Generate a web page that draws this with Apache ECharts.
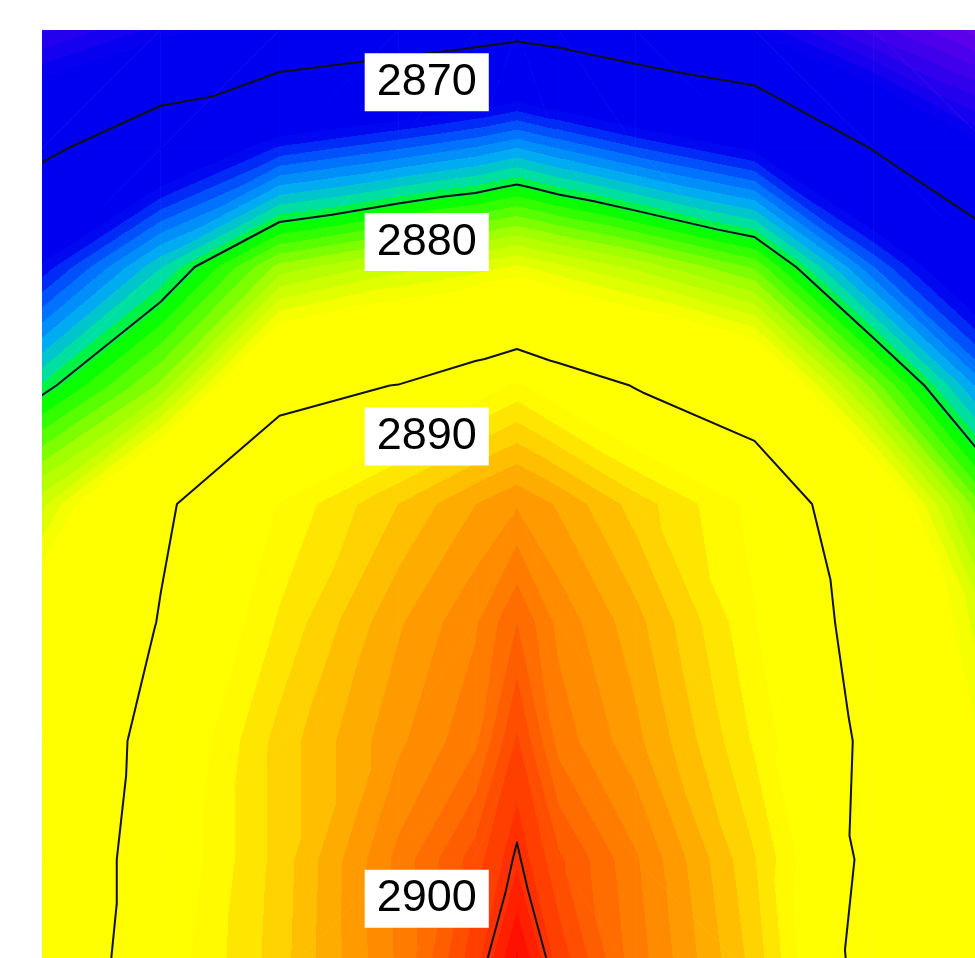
<!DOCTYPE html>
<html>
<head>
<meta charset="utf-8">
<script src="https://cdn.jsdelivr.net/npm/echarts@6/dist/echarts.min.js"></script>
<style>
  html, body { margin: 0; padding: 0; background: #ffffff; }
  #chart { width: 975px; height: 958px; }
</style>
</head>
<body>
<div id="chart"></div>
<script>
// Sample grid: column / row positions (row 0 is the top edge); extra columns near the ridge
const xNodes = [0, 1, 2, 3, 3.65, 4, 4.35, 5, 6, 7, 8];
const yNodes = [0, 1, 2, 3, 4, 5, 6, 7, 8];

// Measured surface values, one array per grid row
const row0 = [2864.4, 2866.1, 2867.2, 2868.2, 2868.8, 2869.2, 2868.8, 2867.7, 2866.4, 2863.6, 2861.4];
const row1 = [2869.4, 2872.2, 2875.1, 2876.2, 2877.0, 2877.6, 2876.9, 2875.7, 2874.1, 2869.9, 2866.5];
const row2 = [2874.5, 2878.8, 2883.0, 2884.4, 2885.0, 2885.5, 2884.9, 2883.9, 2882.0, 2876.3, 2871.6];
const row3 = [2879.6, 2882.9, 2889.35, 2890.05, 2891.3, 2892.0, 2891.2, 2889.9, 2888.6, 2882.5, 2876.7];
const row4 = [2884.5, 2889.7, 2891.9, 2893.8, 2895.1, 2895.7, 2895.0, 2893.5, 2891.6, 2888.3, 2881.5];
const row5 = [2887.5, 2890.1, 2892.6, 2895.0, 2896.3, 2897.7, 2896.2, 2894.7, 2891.9, 2889.1, 2884.5];
const row6 = [2888.2, 2890.7, 2893.4, 2895.6, 2896.9, 2899.1, 2896.8, 2895.3, 2892.4, 2889.5, 2885.5];
const row7 = [2888.3, 2891.0, 2893.4, 2896.6, 2898.7, 2900.15, 2898.5, 2896.5, 2893.2, 2889.4, 2886.3];
const row8 = [2888.3, 2891.3, 2893.5, 2896.5, 2899.6, 2902.0, 2899.6, 2896.8, 2893.6, 2889.0, 2887.0];

// Isolines and where their labels sit (in grid units)
const contourLevels = [2870, 2880, 2890, 2900];
const labelAnchors = [[3.24, 0.44], [3.24, 1.79], [3.24, 3.43], [3.24, 7.33]];

// Visible part of the grid (the surface continues past the right and bottom edges)
const xView = [0, 7.857];
const yView = [0, 7.831];

const grid = [row0, row1, row2, row3, row4, row5, row6, row7, row8];
const ridgeCol = xNodes.indexOf(4);

// Colour ramp (value -> colour), drawn in discrete steps
const rampStops = [
  [2860.0, [140, 0, 230]],
  [2866.5, [0, 0, 240]],
  [2874.5, [0, 0, 240]],
  [2876.5, [0, 112, 255]],
  [2878.0, [0, 176, 240]],
  [2879.2, [0, 224, 160]],
  [2880.3, [0, 255, 0]],
  [2883.0, [160, 255, 0]],
  [2886.0, [255, 255, 0]],
  [2892.0, [255, 255, 0]],
  [2895.0, [255, 165, 0]],
  [2902.0, [255, 0, 0]]
];
const bandBase = 2860;
const bandStep = 0.65;

function rampColor(v) {
  if (v <= rampStops[0][0]) return rampStops[0][1];
  for (let k = 1; k < rampStops.length; k++) {
    const a = rampStops[k - 1], b = rampStops[k];
    if (v <= b[0]) {
      const t = (v - a[0]) / (b[0] - a[0]);
      return [0, 1, 2].map(c => Math.round(a[1][c] + t * (b[1][c] - a[1][c])));
    }
  }
  return rampStops[rampStops.length - 1][1];
}
function bandColor(k) {
  const c = rampColor(bandBase + (k + 0.5) * bandStep);
  return 'rgb(' + c[0] + ',' + c[1] + ',' + c[2] + ')';
}
function bandIndex(v) { return Math.floor((v - bandBase) / bandStep); }

// Two triangles per cell; diagonals mirror about the ridge column
function cellTriangles(i, j) {
  const TL = [i, j], TR = [i + 1, j], BL = [i, j + 1], BR = [i + 1, j + 1];
  if (i < ridgeCol) return [[TL, TR, BL], [TR, BR, BL]];
  return [[TL, TR, BR], [TL, BR, BL]];
}

const cells = [];
for (let j = 0; j < yNodes.length - 1; j++) {
  for (let i = 0; i < xNodes.length - 1; i++) cells.push([i, j]);
}

// Fill of one triangle: a linear gradient along the value gradient, with hard steps
function triangleFill(P, V) {
  const dx1 = P[1][0] - P[0][0], dy1 = P[1][1] - P[0][1], dv1 = V[1] - V[0];
  const dx2 = P[2][0] - P[0][0], dy2 = P[2][1] - P[0][1], dv2 = V[2] - V[0];
  const det = dx1 * dy2 - dx2 * dy1;
  const vlo = Math.min(V[0], V[1], V[2]), vhi = Math.max(V[0], V[1], V[2]);
  if (Math.abs(det) < 1e-9 || vhi - vlo < 1e-9) return bandColor(bandIndex(V[0]));
  const a = (dv1 * dy2 - dv2 * dy1) / det;
  const b = (dx1 * dv2 - dx2 * dv1) / det;
  const g2 = a * a + b * b;
  const sx = P[0][0] + (vlo - V[0]) / g2 * a, sy = P[0][1] + (vlo - V[0]) / g2 * b;
  const ex = P[0][0] + (vhi - V[0]) / g2 * a, ey = P[0][1] + (vhi - V[0]) / g2 * b;
  const k0 = bandIndex(vlo), k1 = bandIndex(vhi);
  const stops = [{ offset: 0, color: bandColor(k0) }];
  for (let k = k0 + 1; k <= k1; k++) {
    let off = (bandBase + k * bandStep - vlo) / (vhi - vlo);
    off = Math.max(0, Math.min(1, off));
    stops.push({ offset: off, color: bandColor(k - 1) });
    stops.push({ offset: off, color: bandColor(k) });
  }
  stops.push({ offset: 1, color: bandColor(k1) });
  return { type: 'linear', x: sx, y: sy, x2: ex, y2: ey, colorStops: stops, global: true };
}

// Marching triangles: isolines chained into polylines (grid units)
function buildContours(level) {
  const segs = [];
  for (const [i, j] of cells) {
    for (const tri of cellTriangles(i, j)) {
      const pts = [];
      for (let e = 0; e < 3; e++) {
        const A = tri[e], B = tri[(e + 1) % 3];
        const va = grid[A[1]][A[0]], vb = grid[B[1]][B[0]];
        if ((va >= level) !== (vb >= level)) {
          const t = (level - va) / (vb - va);
          const ka = A[0] + ',' + A[1], kb = B[0] + ',' + B[1];
          const key = ka < kb ? ka + '|' + kb : kb + '|' + ka;
          pts.push({ key, p: [xNodes[A[0]] + t * (xNodes[B[0]] - xNodes[A[0]]),
                              yNodes[A[1]] + t * (yNodes[B[1]] - yNodes[A[1]])] });
        }
      }
      if (pts.length === 2) segs.push(pts);
    }
  }
  const byKey = {};
  segs.forEach((s, idx) => s.forEach(end => (byKey[end.key] = byKey[end.key] || []).push(idx)));
  const used = new Array(segs.length).fill(false);
  const lines = [];
  const walk = (idx, fromKey, out) => {
    while (idx !== undefined && !used[idx]) {
      used[idx] = true;
      const s = segs[idx];
      const nxt = s[0].key === fromKey ? s[1] : s[0];
      out.push(nxt.p);
      idx = (byKey[nxt.key] || []).find(n => !used[n]);
      fromKey = nxt.key;
    }
  };
  for (let s = 0; s < segs.length; s++) {
    if (used[s]) continue;
    const fwd = [segs[s][0].p];
    walk(s, segs[s][0].key, fwd);
    const back = [];
    const other = (byKey[segs[s][0].key] || []).find(n => !used[n]);
    walk(other, segs[s][0].key, back);
    lines.push(back.reverse().concat(fwd));
  }
  return lines;
}
const contourPaths = [];
contourLevels.forEach(l => buildContours(l).forEach(p => contourPaths.push(p)));

const chart = echarts.init(document.getElementById('chart'), null, { renderer: 'canvas' });
chart.setOption({
  animation: false,
  backgroundColor: '#ffffff',
  grid: { left: 42, top: 30, right: 0, bottom: 0, outerBoundsMode: 'none' },
  xAxis: { type: 'value', min: xView[0], max: xView[1], show: false },
  yAxis: { type: 'value', min: yView[0], max: yView[1], inverse: true, show: false },
  series: [
    {
      type: 'custom',
      name: 'surface',
      z: 1,
      silent: true,
      clip: true,
      data: cells,
      renderItem: function (params, api) {
        const i = api.value(0), j = api.value(1);
        const children = cellTriangles(i, j).map(tri => {
          const P = tri.map(n => api.coord([xNodes[n[0]], yNodes[n[1]]]));
          const V = tri.map(n => grid[n[1]][n[0]]);
          const fill = triangleFill(P, V);
          return {
            type: 'polygon',
            shape: { points: P },
            style: { fill: fill, stroke: fill, lineWidth: 0.8 }
          };
        });
        return { type: 'group', children };
      }
    },
    {
      type: 'custom',
      name: 'isolines',
      z: 2,
      silent: true,
      clip: true,
      data: contourPaths.map((p, k) => [k]),
      renderItem: function (params, api) {
        const path = contourPaths[params.dataIndex];
        return {
          type: 'polyline',
          shape: { points: path.map(p => api.coord(p)) },
          style: { stroke: '#111111', lineWidth: 2, fill: null, lineJoin: 'round', lineCap: 'round' }
        };
      }
    },
    {
      type: 'scatter',
      name: 'levels',
      z: 3,
      silent: true,
      symbolSize: 1,
      itemStyle: { color: 'rgba(0,0,0,0)', opacity: 1 },
      data: labelAnchors.map((a, k) => [a[0], a[1], contourLevels[k]]),
      label: {
        show: true,
        position: 'inside',
        formatter: p => String(p.value[2]),
        fontFamily: '"Liberation Sans", Arial, sans-serif',
        fontSize: 45,
        lineHeight: 46,
        color: '#000000',
        opacity: 1,
        backgroundColor: '#ffffff',
        padding: [6, 12, 6, 12]
      }
    }
  ]
});
</script>
</body>
</html>
